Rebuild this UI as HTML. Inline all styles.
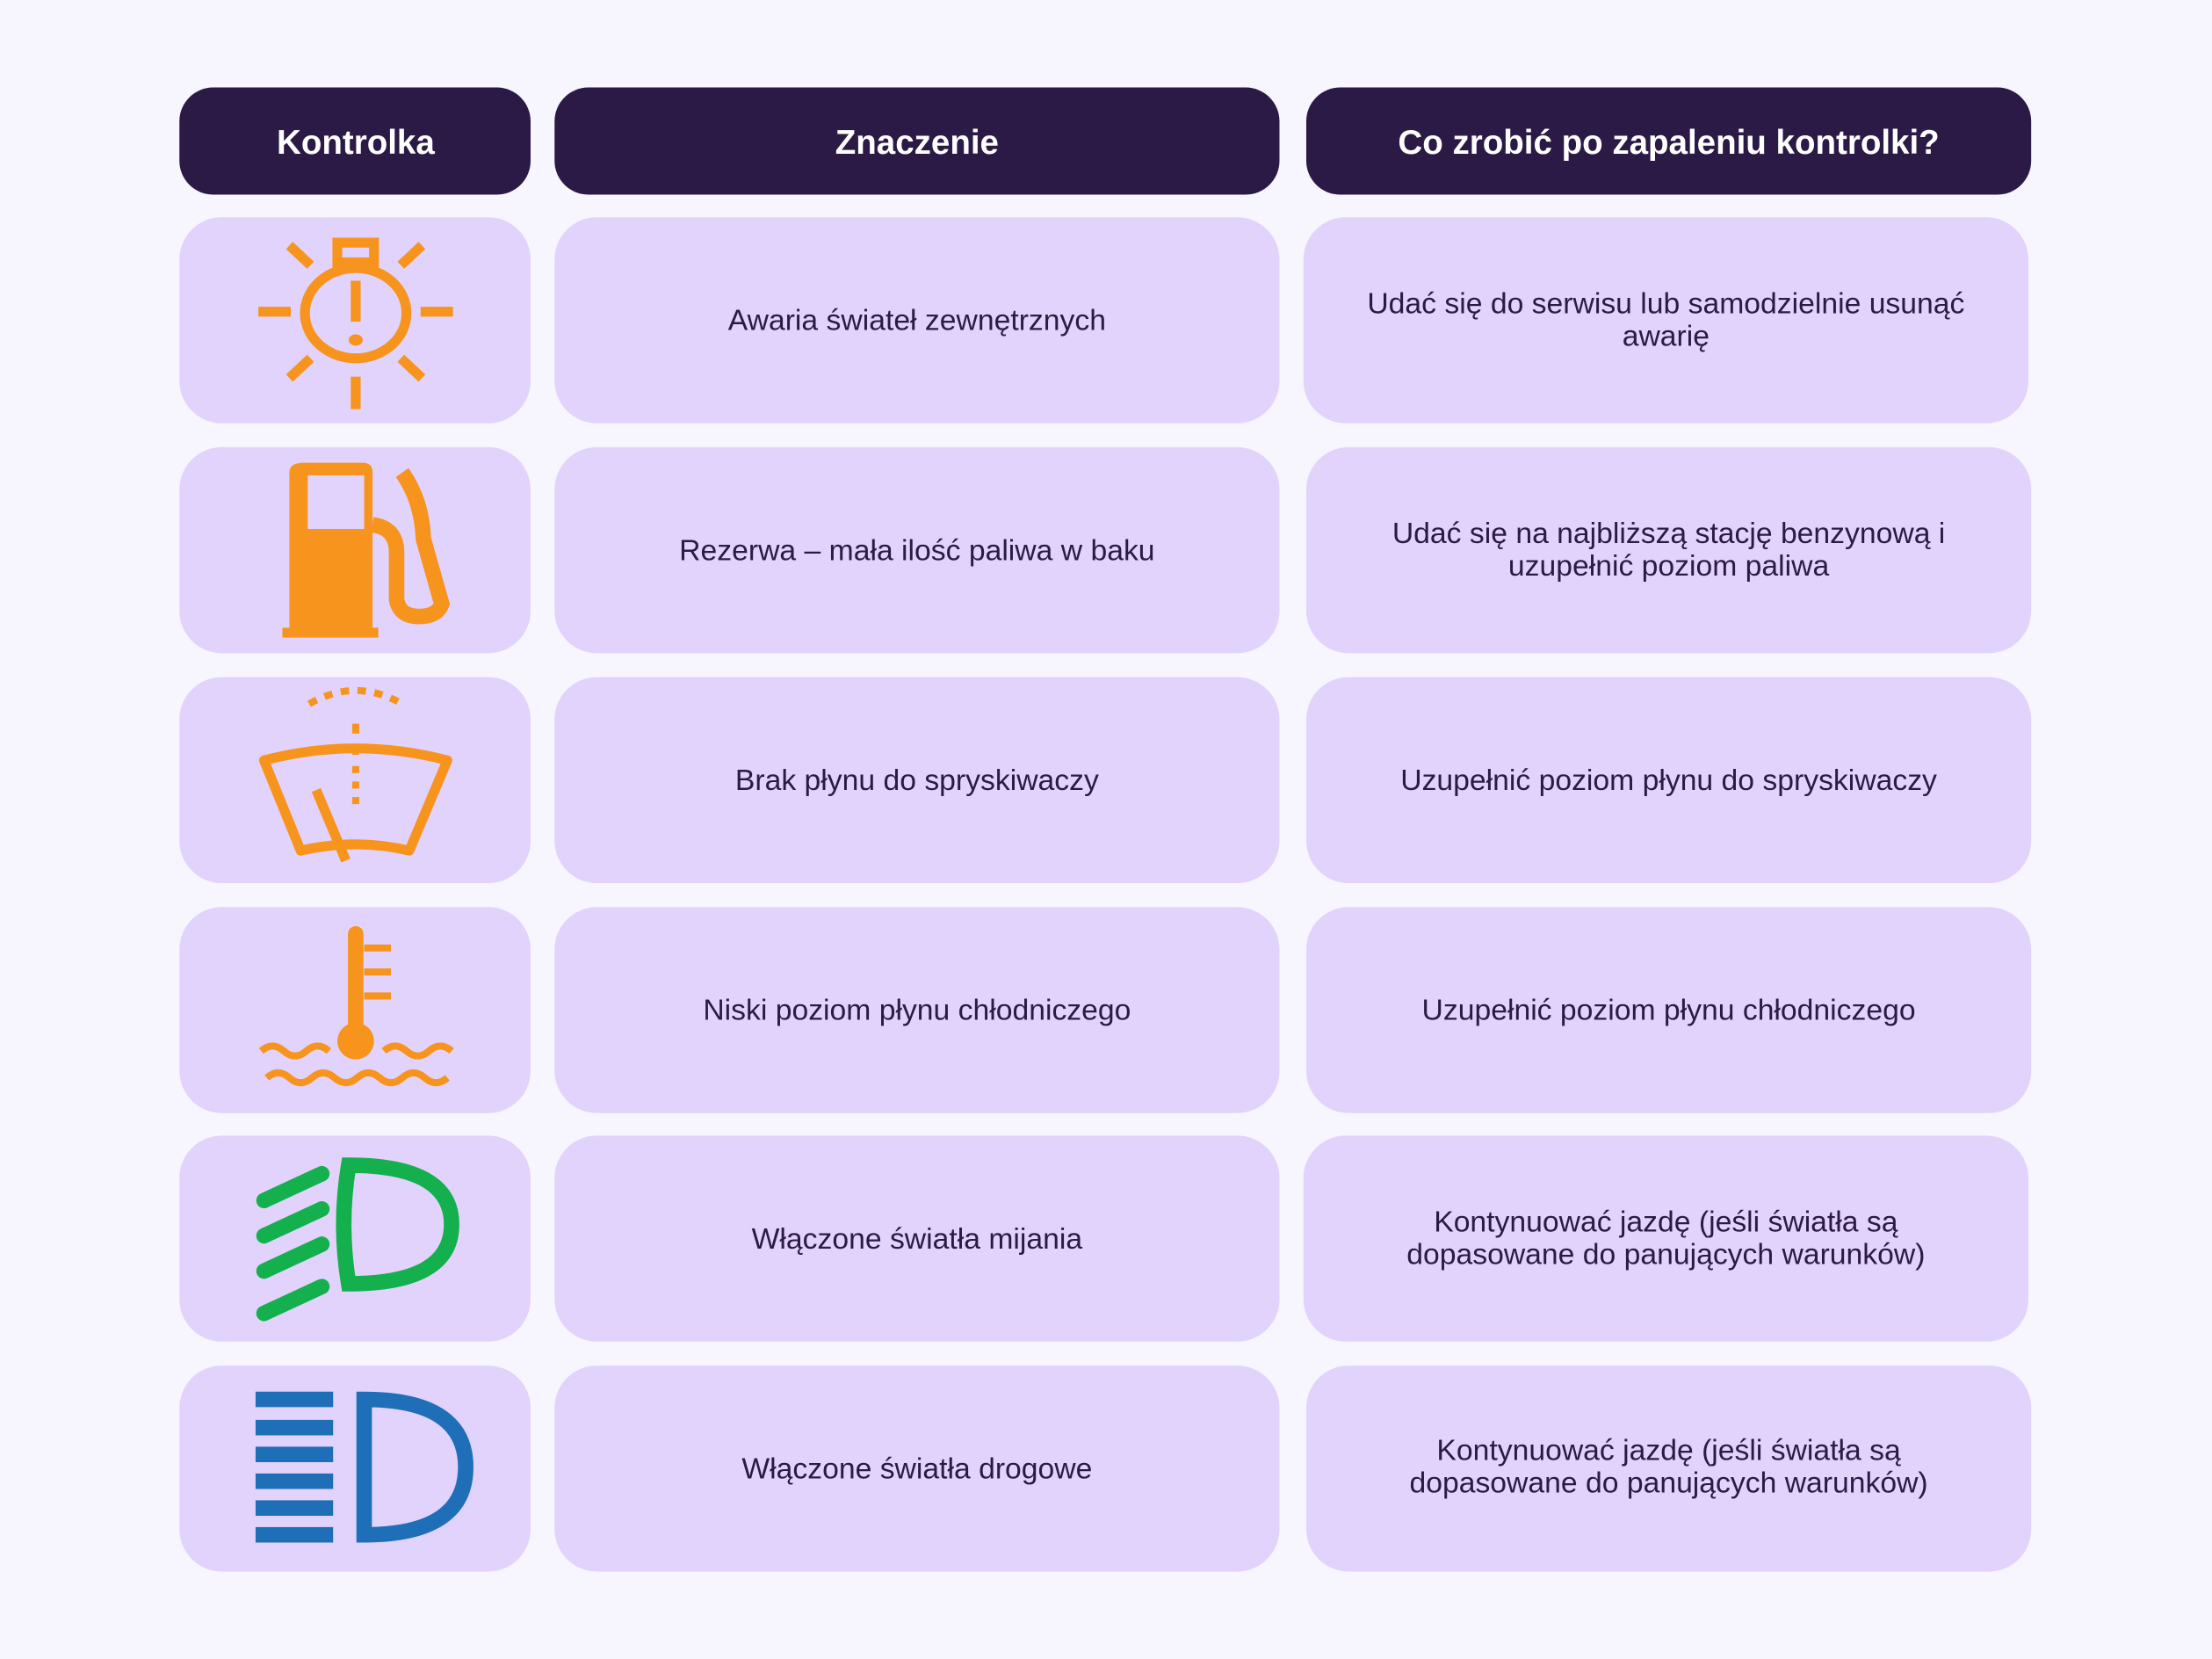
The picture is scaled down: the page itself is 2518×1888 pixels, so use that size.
<!DOCTYPE html>
<html><head><meta charset="utf-8"><style>
html,body{margin:0;padding:0;background:#f7f5fe;}
svg{display:block}
text{font-family:"Liberation Sans",sans-serif;fill:#2a1a45;}
</style></head><body>
<svg width="2518" height="1888" viewBox="0 0 1568 1176" xmlns="http://www.w3.org/2000/svg">
<rect width="1568" height="1176" fill="#f7f5fe"/>
<g fill="#2a1a45">
<rect x="127" y="62" width="249" height="76" rx="24"/>
<rect x="393" y="62" width="514" height="76" rx="24"/>
<rect x="926" y="62" width="514" height="76" rx="24"/>
</g>
<g font-size="24" font-weight="bold" text-anchor="middle">
<text x="252" y="109" style="fill:#fff">Kontrolka</text>
<text x="650" y="109" style="fill:#fff">Znaczenie</text>
<text x="1183" y="109" style="fill:#fff">Co zrobić po zapaleniu kontrolki?</text>
</g>
<g fill="#e2d3fd">
<rect x="127" y="154" width="249" height="146" rx="30"/><rect x="393" y="154" width="514" height="146" rx="30"/><rect x="924" y="154" width="514" height="146" rx="30"/>
<rect x="127" y="317" width="249" height="146" rx="30"/><rect x="393" y="317" width="514" height="146" rx="30"/><rect x="926" y="317" width="514" height="146" rx="30"/>
<rect x="127" y="480" width="249" height="146" rx="30"/><rect x="393" y="480" width="514" height="146" rx="30"/><rect x="926" y="480" width="514" height="146" rx="30"/>
<rect x="127" y="643" width="249" height="146" rx="30"/><rect x="393" y="643" width="514" height="146" rx="30"/><rect x="926" y="643" width="514" height="146" rx="30"/>
<rect x="127" y="805" width="249" height="146" rx="30"/><rect x="393" y="805" width="514" height="146" rx="30"/><rect x="924" y="805" width="514" height="146" rx="30"/>
<rect x="127" y="968" width="249" height="146" rx="30"/><rect x="393" y="968" width="514" height="146" rx="30"/><rect x="926" y="968" width="514" height="146" rx="30"/>
</g>
<g font-size="21" text-anchor="middle">
<text x="650" y="234">Awaria świateł zewnętrznych</text>
<text x="1181" y="222">Udać się do serwisu lub samodzielnie usunąć</text>
<text x="1181" y="245">awarię</text>
<text x="650" y="397">Rezerwa – mała ilość paliwa w baku</text>
<text x="1183" y="385">Udać się na najbliższą stację benzynową i</text>
<text x="1183" y="408">uzupełnić poziom paliwa</text>
<text x="650" y="560">Brak płynu do spryskiwaczy</text>
<text x="1183" y="560">Uzupełnić poziom płynu do spryskiwaczy</text>
<text x="650" y="723">Niski poziom płynu chłodniczego</text>
<text x="1183" y="723">Uzupełnić poziom płynu chłodniczego</text>
<text x="650" y="885">Włączone światła mijania</text>
<text x="1181" y="873">Kontynuować jazdę (jeśli światła są</text>
<text x="1181" y="896">dopasowane do panujących warunków)</text>
<text x="650" y="1048">Włączone światła drogowe</text>
<text x="1183" y="1035">Kontynuować jazdę (jeśli światła są</text>
<text x="1183" y="1058">dopasowane do panujących warunków)</text>
</g>
<!-- sun -->
<g stroke="#f7941d" stroke-width="7" fill="none">
<ellipse cx="252" cy="222" rx="36" ry="32"/>
<rect x="239" y="172" width="26" height="14"/>
<line x1="183" y1="221" x2="206" y2="221"/><line x1="298" y1="221" x2="321" y2="221"/>
<line x1="252" y1="267" x2="252" y2="290"/>
<line x1="205" y1="174" x2="220" y2="188"/><line x1="299" y1="174" x2="284" y2="188"/>
<line x1="205" y1="268" x2="220" y2="254"/><line x1="299" y1="268" x2="284" y2="254"/>
<line x1="252" y1="199" x2="252" y2="228"/>
</g>
<ellipse cx="252" cy="241" rx="5" ry="4" fill="#f7941d"/>
<!-- fuel -->
<g fill="#f7941d">
<path d="M205 445 V335 Q205 328 215 328 H257 Q264 328 264 335 V445 H268 V452 H200 V445 Z M218 337 V375 H258 V337 Z" fill-rule="evenodd"/>
</g>
<path d="M264 372 Q280 374 281 390 V425 Q283 437 297 437 Q310 437 313 428 L300 382 Q299 355 285 335" stroke="#f7941d" stroke-width="11" fill="none"/>
<!-- washer -->
<g stroke="#f7941d" stroke-width="7" fill="none" stroke-linejoin="round">
<path d="M187 539 Q252 522 317 539 L290 603 Q252 594 213 603 Z"/>
<line x1="224" y1="560" x2="245" y2="610"/>
</g>
<g stroke="#f7941d" stroke-width="5" fill="none">
<line x1="252" y1="513" x2="252" y2="520"/><line x1="252" y1="529" x2="252" y2="535"/><line x1="252" y1="543" x2="252" y2="548"/><line x1="252" y1="554" x2="252" y2="559"/><line x1="252" y1="565" x2="252" y2="570"/>
<path d="M219 499 Q252 480 285 499" stroke-dasharray="6 6"/>
</g>
<!-- thermometer -->
<g stroke="#f7941d" fill="none">
<line x1="252" y1="662" x2="252" y2="735" stroke-width="11" stroke-linecap="round"/>
<g stroke-width="5"><line x1="258" y1="672" x2="277" y2="672"/><line x1="258" y1="689" x2="277" y2="689"/><line x1="258" y1="706" x2="277" y2="706"/></g>
<path d="M185 745 q8-7 16 0 t16 0 t16 0" stroke-width="5"/>
<path d="M272 745 q8-7 16 0 t16 0 t16 0" stroke-width="5"/>
<path d="M189 764 q8-7 16 0 t16 0 t16 0 t16 0 t16 0 t16 0 t16 0 t16 0" stroke-width="5"/>
</g>
<circle cx="252" cy="738" r="13" fill="#f7941d"/>
<!-- low beam -->
<g stroke="#14b04d" stroke-width="11" fill="none" stroke-linecap="round">
<path d="M247 826 Q320 826 320 868 Q320 910 247 910 Q240 868 247 826 Z"/>
<line x1="187" y1="851" x2="228" y2="832"/><line x1="187" y1="876" x2="228" y2="857"/><line x1="187" y1="901" x2="228" y2="882"/><line x1="187" y1="931" x2="228" y2="912"/>
</g>
<!-- high beam -->
<g stroke="#1f6fb8" stroke-width="11" fill="none">
<path d="M258 992 Q330 992 330 1040 Q330 1088 258 1088 Z"/>
<line x1="181" y1="992" x2="236" y2="992"/><line x1="181" y1="1012" x2="236" y2="1012"/><line x1="181" y1="1031" x2="236" y2="1031"/><line x1="181" y1="1050" x2="236" y2="1050"/><line x1="181" y1="1069" x2="236" y2="1069"/><line x1="181" y1="1088" x2="236" y2="1088"/>
</g>
</svg>
</body></html>
